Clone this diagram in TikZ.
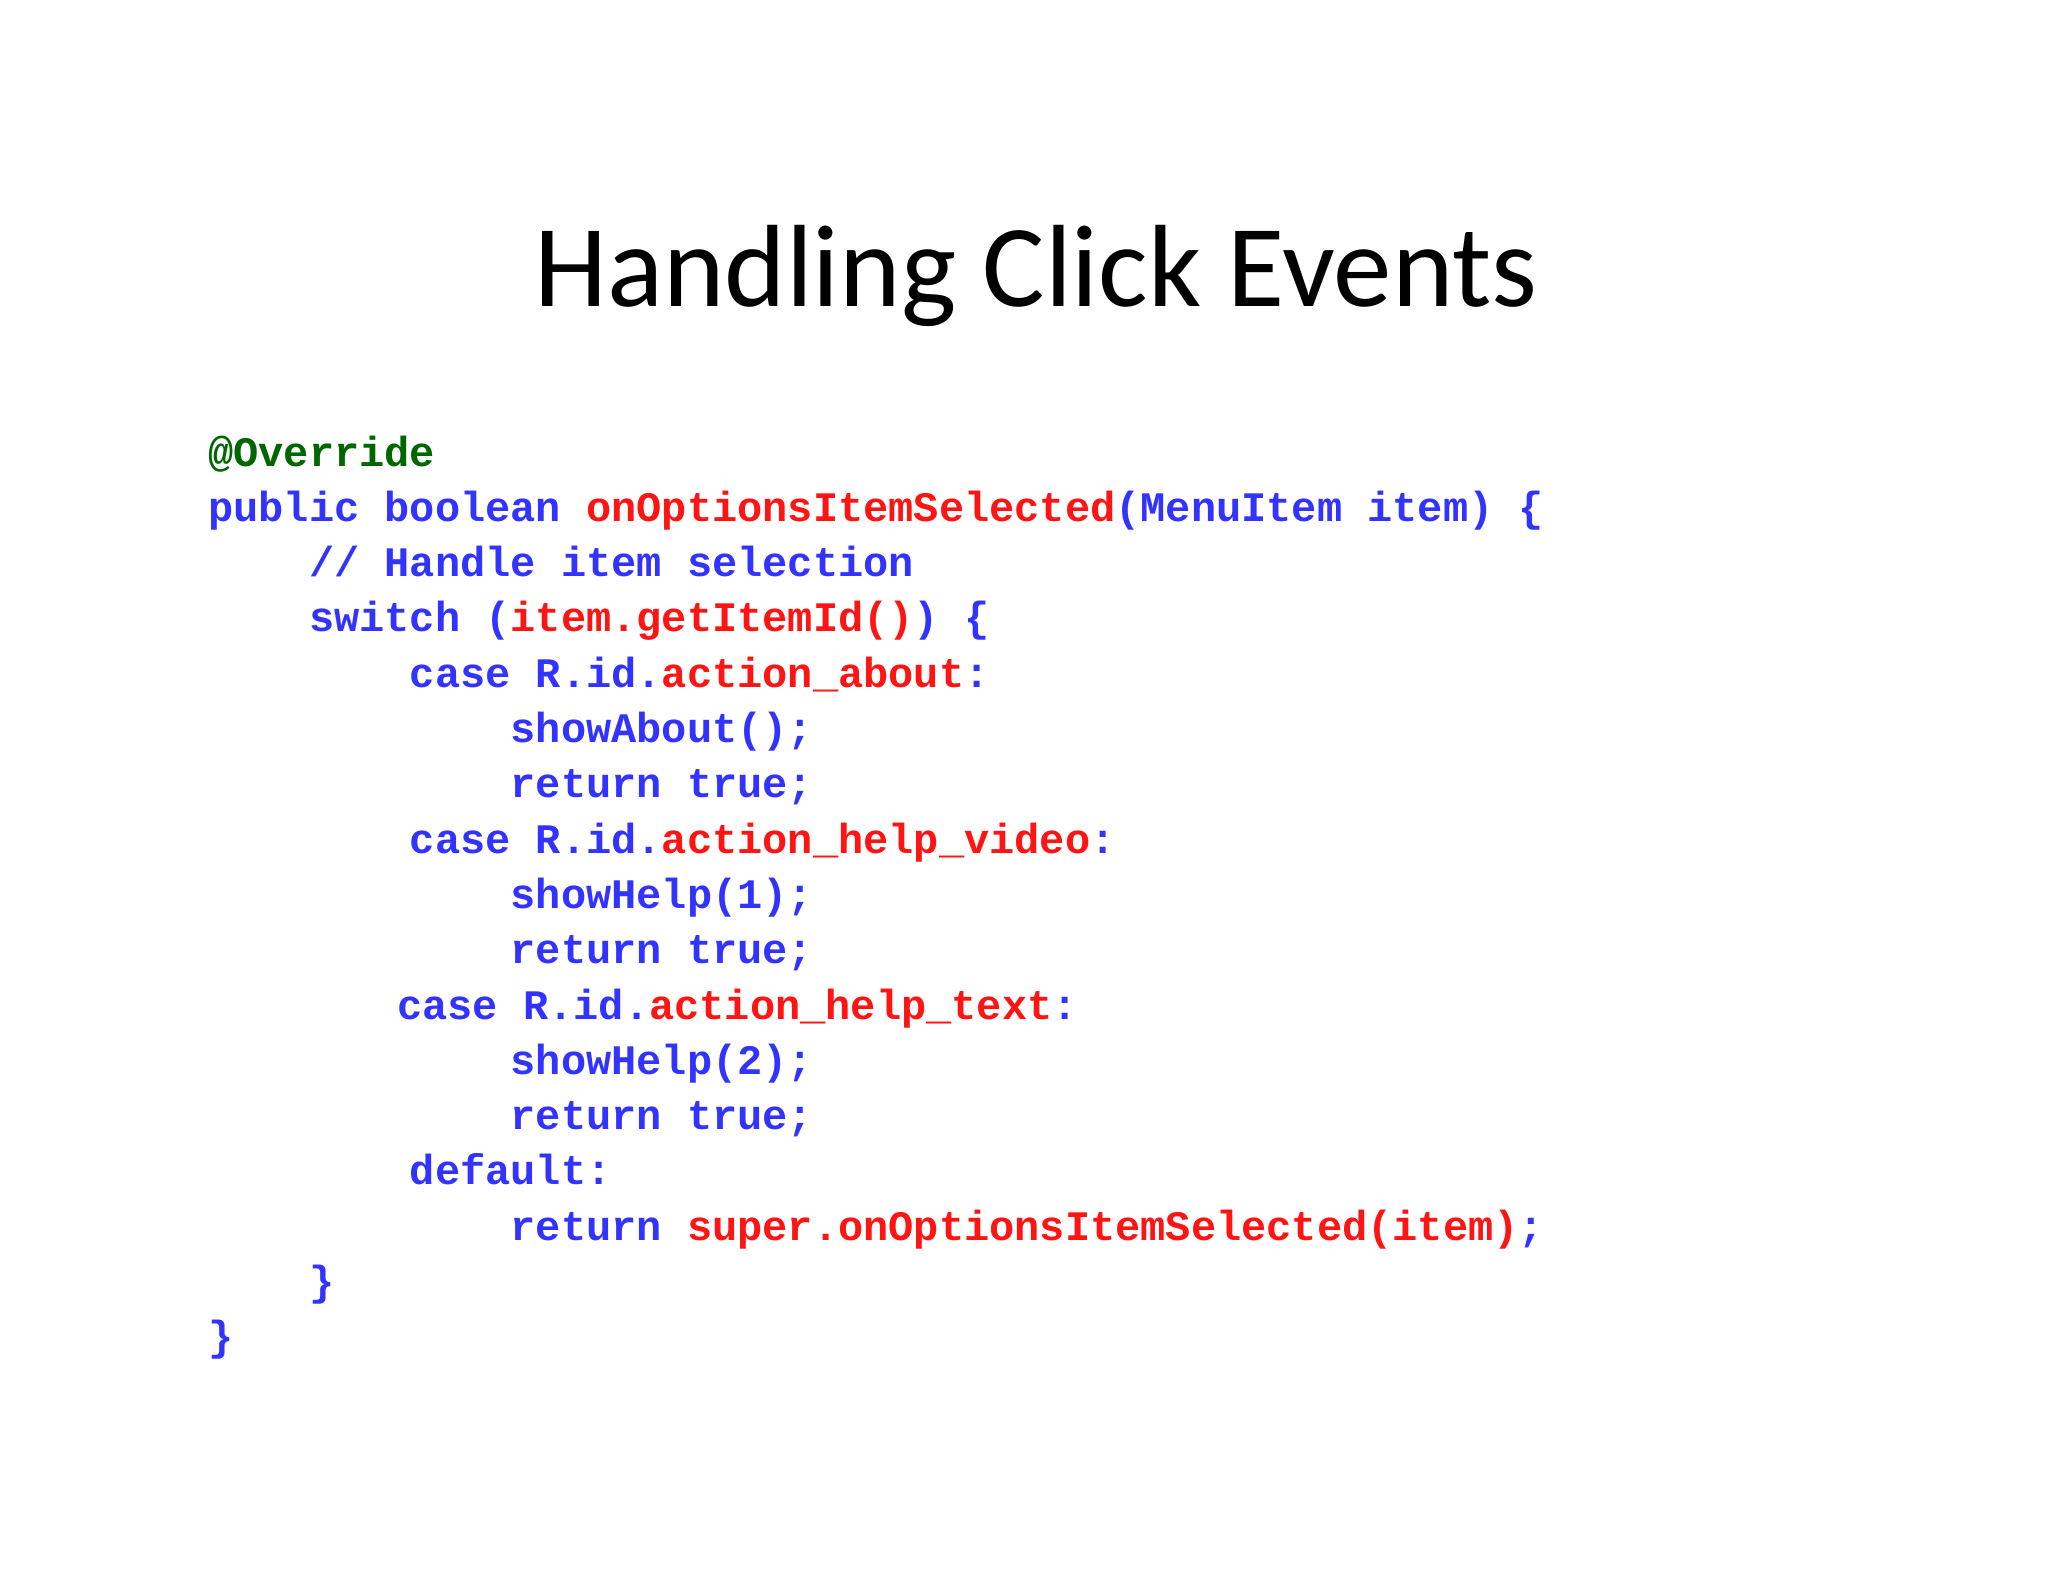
\documentclass[tikz,border=0pt]{standalone}
\usepackage{fontspec}
\setmainfont{Carlito}
\newfontfamily\codefont[FakeBold=0]{Liberation Mono}
\definecolor{cb}{RGB}{51,51,255}
\definecolor{cr}{RGB}{255,20,20}
\definecolor{cg}{RGB}{0,102,0}
\begin{document}
\begin{tikzpicture}[x=1pt,y=-1pt,
  code/.style={anchor=base west,inner sep=0pt,font=\codefont\bfseries\fontsize{42}{42}\selectfont,text=cb}]
\useasboundingbox (0,0) rectangle (2048,1582);
\node[font=\fontsize{117}{117}\selectfont,anchor=base] (title) at (1036,306) {Handling Click Events};
\def\cw{25.2}
\def\lh{55.3}
\node[code,text=cg] (l0) at (208,466) {@Override};
\node[code] (l1) at (208,466+\lh) {public boolean \textcolor{cr}{onOptionsItemSelected}(MenuItem item) \{};
\node[code] (l2) at (208+4*\cw,466+2*\lh) {// Handle item selection};
\node[code] (l3) at (208+4*\cw,466+3*\lh) {switch (\textcolor{cr}{item.getItemId()}) \{};
\node[code] (l4) at (208+8*\cw,466+4*\lh) {case R.id.\textcolor{cr}{action\_about}:};
\node[code] (l5) at (208+12*\cw,466+5*\lh) {showAbout();};
\node[code] (l6) at (208+12*\cw,466+6*\lh) {return true;};
\node[code] (l7) at (208+8*\cw,466+7*\lh) {case R.id.\textcolor{cr}{action\_help\_video}:};
\node[code] (l8) at (208+12*\cw,466+8*\lh) {showHelp(1);};
\node[code] (l9) at (208+12*\cw,466+9*\lh) {return true;};
\node[code] (l10) at (208+7.5*\cw,466+10*\lh) {case R.id.\textcolor{cr}{action\_help\_text}:};
\node[code] (l11) at (208+12*\cw,466+11*\lh) {showHelp(2);};
\node[code] (l12) at (208+12*\cw,466+12*\lh) {return true;};
\node[code] (l13) at (208+8*\cw,466+13*\lh) {default:};
\node[code] (l14) at (208+12*\cw,466+14*\lh) {return \textcolor{cr}{super.onOptionsItemSelected(item)};};
\node[code] (l15) at (208+4*\cw,466+15*\lh) {\}};
\node[code] (l16) at (208,466+16*\lh) {\}};
\end{tikzpicture}
\end{document}
